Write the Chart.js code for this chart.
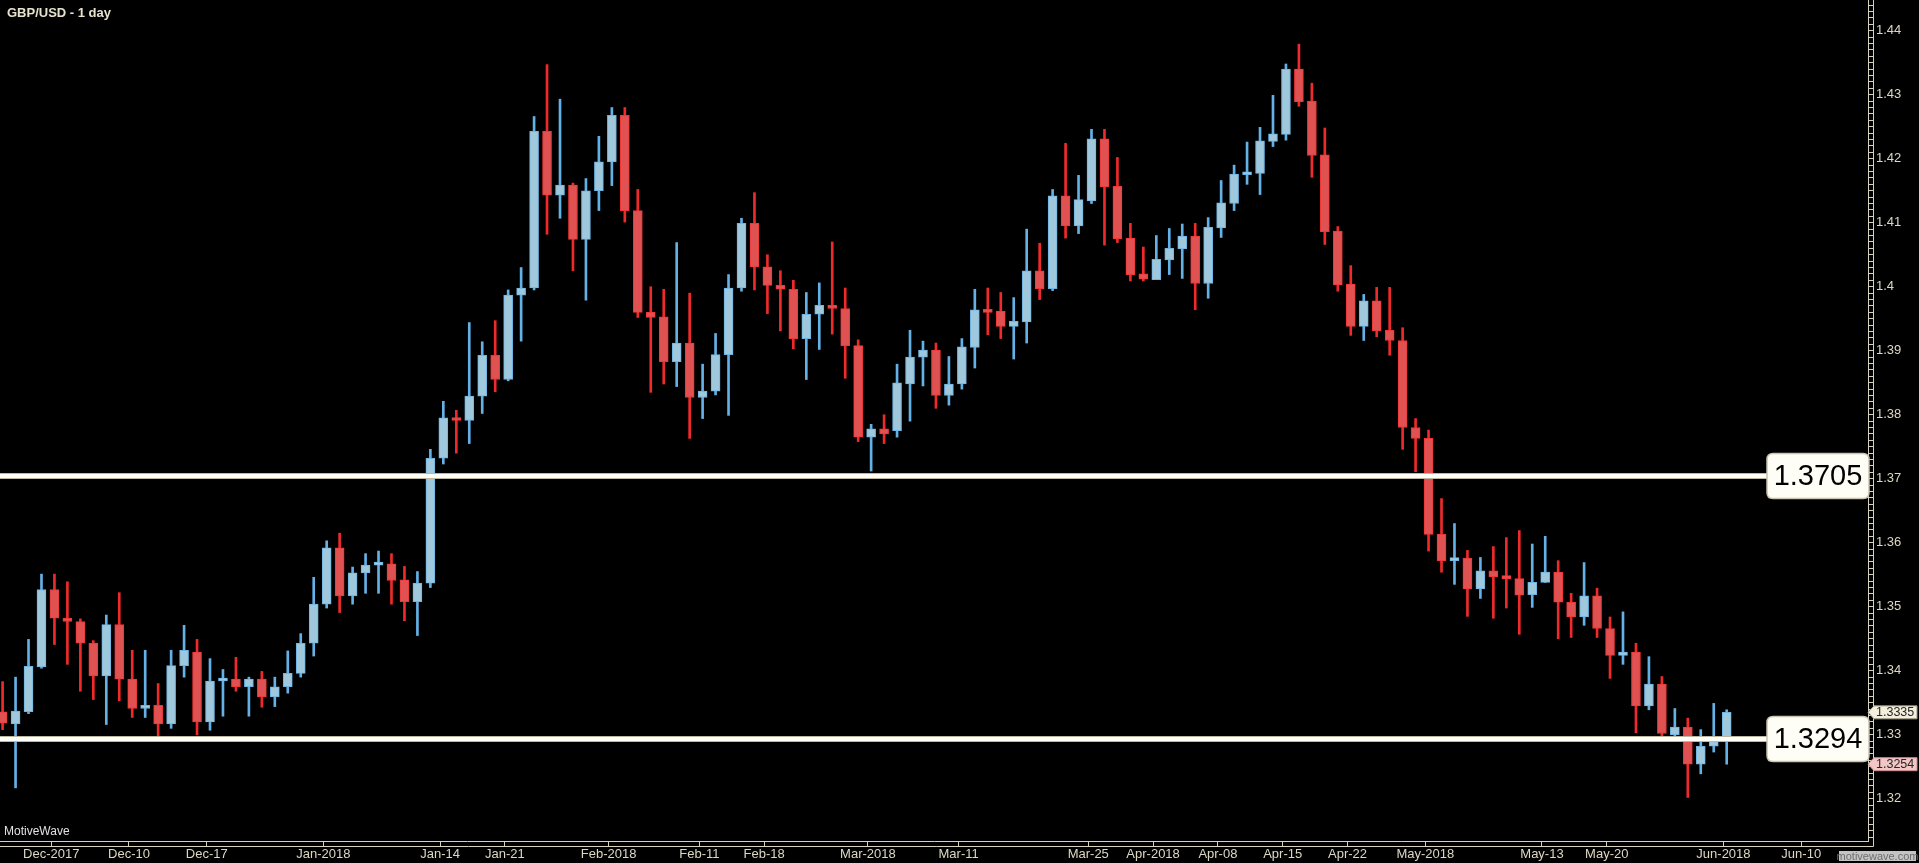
<!DOCTYPE html>
<html>
<head>
<meta charset="utf-8">
<title>GBP/USD - 1 day</title>
<script src="https://cdn.jsdelivr.net/npm/chart.js@4.4.1/dist/chart.umd.min.js"></script>
<style>
    html, body { margin: 0; padding: 0; background: #000; overflow: hidden; }
    #wrap { position: relative; width: 1919px; height: 863px; }
</style>
</head>
<body>
<div id="wrap"><canvas id="priceChart"></canvas></div>
<script>
// GBP/USD daily candles, late Nov 2017 .. 1 Jun 2018
const opens = [
    1.3336, 1.3317, 1.3336, 1.3406, 1.3527, 1.3482, 1.3477, 1.3443, 1.3392, 1.3472,
    1.3387, 1.3341, 1.3346, 1.3317, 1.3408, 1.3429, 1.3320, 1.3384, 1.3387, 1.3375,
    1.3387, 1.3359, 1.3375, 1.3396, 1.3443, 1.3504, 1.3592, 1.3517, 1.3553, 1.3565,
    1.3567, 1.3542, 1.3508, 1.3537, 1.3732, 1.3795, 1.3791, 1.3829, 1.3893, 1.3855,
    1.3987, 1.3998, 1.4243, 1.4143, 1.4159, 1.4074, 1.4150, 1.4195, 1.4268, 1.4119,
    1.3960, 1.3953, 1.3883, 1.3912, 1.3827, 1.3837, 1.3894, 1.3998, 1.4099, 1.4031,
    1.4002, 1.3996, 1.3919, 1.3957, 1.3971, 1.3966, 1.3908, 1.3765, 1.3778, 1.3775,
    1.3848, 1.3890, 1.3901, 1.3830, 1.3848, 1.3905, 1.3964, 1.3962, 1.3938, 1.3945,
    1.4025, 1.3997, 1.4142, 1.4095, 1.4134, 1.4231, 1.4157, 1.4076, 1.4020, 1.4011,
    1.4042, 1.4059, 1.4079, 1.4005, 1.4092, 1.4130, 1.4175, 1.4177, 1.4227, 1.4238,
    1.4340, 1.4290, 1.4206, 1.4087, 1.4004, 1.3938, 1.3978, 1.3932, 1.3916, 1.3780,
    1.3763, 1.3613, 1.3572, 1.3576, 1.3528, 1.3556, 1.3547, 1.3544, 1.3519, 1.3538,
    1.3554, 1.3507, 1.3484, 1.3517, 1.3466, 1.3424, 1.3429, 1.3345, 1.3379, 1.3300,
    1.3312, 1.3254, 1.3282, 1.3291
];
const highs = [
    1.3383, 1.3390, 1.3449, 1.3551, 1.3551, 1.3539, 1.3481, 1.3447, 1.3487, 1.3522,
    1.3432, 1.3432, 1.3380, 1.3432, 1.3471, 1.3449, 1.3419, 1.3402, 1.3421, 1.3390,
    1.3399, 1.3390, 1.3431, 1.3458, 1.3546, 1.3603, 1.3615, 1.3562, 1.3583, 1.3587,
    1.3583, 1.3563, 1.3555, 1.3746, 1.3821, 1.3807, 1.3944, 1.3914, 1.3947, 1.3995,
    1.4030, 1.4266, 1.4347, 1.4293, 1.4162, 1.4169, 1.4235, 1.4280, 1.4280, 1.4152,
    1.4000, 1.3996, 1.4069, 1.3990, 1.3879, 1.3927, 1.4019, 1.4107, 1.4147, 1.4050,
    1.4025, 1.4010, 1.3991, 1.4006, 1.4070, 1.3998, 1.3917, 1.3785, 1.3800, 1.3879,
    1.3932, 1.3915, 1.3912, 1.3891, 1.3919, 1.3996, 1.3998, 1.3991, 1.3983, 1.4090,
    1.4068, 1.4152, 1.4224, 1.4174, 1.4246, 1.4246, 1.4202, 1.4099, 1.4062, 1.4080,
    1.4091, 1.4098, 1.4099, 1.4108, 1.4166, 1.4190, 1.4226, 1.4249, 1.4299, 1.4348,
    1.4379, 1.4318, 1.4248, 1.4094, 1.4033, 1.3988, 1.3999, 1.3999, 1.3936, 1.3794,
    1.3776, 1.3669, 1.3630, 1.3588, 1.3577, 1.3594, 1.3608, 1.3619, 1.3598, 1.3610,
    1.3572, 1.3521, 1.3569, 1.3529, 1.3484, 1.3492, 1.3443, 1.3422, 1.3391, 1.3341,
    1.3326, 1.3308, 1.3349, 1.3339
];
const lows = [
    1.3308, 1.3217, 1.3333, 1.3404, 1.3441, 1.3410, 1.3368, 1.3355, 1.3316, 1.3353,
    1.3327, 1.3327, 1.3298, 1.3310, 1.3390, 1.3300, 1.3307, 1.3329, 1.3368, 1.3329,
    1.3343, 1.3344, 1.3365, 1.3390, 1.3423, 1.3498, 1.3491, 1.3504, 1.3521, 1.3521,
    1.3504, 1.3478, 1.3455, 1.3530, 1.3723, 1.3740, 1.3755, 1.3802, 1.3836, 1.3853,
    1.3915, 1.3995, 1.4082, 1.4107, 1.4025, 1.3979, 1.4119, 1.4158, 1.4101, 1.3952,
    1.3835, 1.3848, 1.3844, 1.3763, 1.3794, 1.3831, 1.3799, 1.3993, 1.3995, 1.3958,
    1.3931, 1.3903, 1.3855, 1.3902, 1.3926, 1.3857, 1.3758, 1.3712, 1.3755, 1.3765,
    1.3790, 1.3845, 1.3810, 1.3815, 1.3840, 1.3873, 1.3925, 1.3919, 1.3887, 1.3912,
    1.3980, 1.3994, 1.4076, 1.4083, 1.4130, 1.4065, 1.4069, 1.4009, 1.4009, 1.4011,
    1.4019, 1.4013, 1.3964, 1.3982, 1.4077, 1.4119, 1.4160, 1.4144, 1.4219, 1.4229,
    1.4282, 1.4171, 1.4066, 1.3993, 1.3924, 1.3916, 1.3922, 1.3893, 1.3746, 1.3711,
    1.3587, 1.3554, 1.3535, 1.3485, 1.3513, 1.3482, 1.3498, 1.3457, 1.3499, 1.3538,
    1.3450, 1.3452, 1.3471, 1.3452, 1.3388, 1.3410, 1.3303, 1.3339, 1.3298, 1.3296,
    1.3202, 1.3239, 1.3273, 1.3254
];
const closes = [
    1.3318, 1.3337, 1.3407, 1.3527, 1.3482, 1.3477, 1.3443, 1.3392, 1.3472, 1.3387,
    1.3341, 1.3346, 1.3317, 1.3408, 1.3432, 1.3320, 1.3384, 1.3387, 1.3375, 1.3387,
    1.3359, 1.3375, 1.3396, 1.3443, 1.3504, 1.3592, 1.3517, 1.3553, 1.3565, 1.3567,
    1.3541, 1.3508, 1.3537, 1.3732, 1.3795, 1.3791, 1.3829, 1.3893, 1.3855, 1.3987,
    1.3998, 1.4243, 1.4143, 1.4159, 1.4074, 1.4150, 1.4195, 1.4268, 1.4119, 1.3960,
    1.3952, 1.3883, 1.3912, 1.3827, 1.3837, 1.3894, 1.3998, 1.4099, 1.4031, 1.4002,
    1.3996, 1.3919, 1.3957, 1.3971, 1.3966, 1.3908, 1.3765, 1.3778, 1.3770, 1.3850,
    1.3890, 1.3901, 1.3830, 1.3848, 1.3906, 1.3964, 1.3960, 1.3938, 1.3946, 1.4025,
    1.3997, 1.4142, 1.4095, 1.4136, 1.4231, 1.4156, 1.4075, 1.4019, 1.4012, 1.4043,
    1.4060, 1.4079, 1.4005, 1.4093, 1.4131, 1.4176, 1.4178, 1.4228, 1.4239, 1.4340,
    1.4289, 1.4205, 1.4086, 1.4003, 1.3938, 1.3978, 1.3931, 1.3916, 1.3780, 1.3763,
    1.3613, 1.3572, 1.3576, 1.3528, 1.3556, 1.3547, 1.3544, 1.3518, 1.3538, 1.3554,
    1.3507, 1.3484, 1.3517, 1.3466, 1.3424, 1.3429, 1.3345, 1.3379, 1.3302, 1.3312,
    1.3254, 1.3282, 1.3291, 1.3335
];

// date labels on the time axis and the bar each one belongs to
const tickLabels = ['Dec-2017', 'Dec-10', 'Dec-17', 'Jan-2018', 'Jan-14', 'Jan-21', 'Feb-2018',
    'Feb-11', 'Feb-18', 'Mar-2018', 'Mar-11', 'Mar-25', 'Apr-2018', 'Apr-08', 'Apr-15',
    'Apr-22', 'May-2018', 'May-13', 'May-20', 'Jun-2018', 'Jun-10'];
const tickBars = [4, 10, 16, 25, 34, 39, 47, 54, 59, 67, 74, 84, 89, 94, 99, 104, 110, 119, 124, 133, 139];

// horizontal levels and the two price tags on the axis
const levels = [1.3705, 1.3294];
const lastPrice = 1.3335;
const markPrice = 1.3254;

const UP_FILL = '#a0c8dd', UP_EDGE = '#6db5e4', UP_WICK = '#63b1e6';
const DOWN_FILL = '#e05151', DOWN_EDGE = '#f23636', DOWN_WICK = '#f02a2a';
const AXIS_COLOR = '#d6d2be';
const TEXT_COLOR = '#dcd8c4';
const FONT = "'Liberation Sans', Arial, sans-serif";

const isUp = i => closes[i] >= opens[i];

function roundRect(ctx, x, y, w, h, r) {
    ctx.beginPath();
    ctx.moveTo(x + r, y);
    ctx.lineTo(x + w - r, y);
    ctx.quadraticCurveTo(x + w, y, x + w, y + r);
    ctx.lineTo(x + w, y + h - r);
    ctx.quadraticCurveTo(x + w, y + h, x + w - r, y + h);
    ctx.lineTo(x + r, y + h);
    ctx.quadraticCurveTo(x, y + h, x, y + h - r);
    ctx.lineTo(x, y + r);
    ctx.quadraticCurveTo(x, y, x + r, y);
    ctx.closePath();
}

function drawTag(ctx, left, y, text, fill, edge) {
    const h = 13, right = 1917;
    ctx.beginPath();
    ctx.moveTo(left, y);
    ctx.lineTo(left + 6, y - h / 2);
    ctx.lineTo(right, y - h / 2);
    ctx.lineTo(right, y + h / 2);
    ctx.lineTo(left + 6, y + h / 2);
    ctx.closePath();
    ctx.fillStyle = fill;
    ctx.fill();
    ctx.strokeStyle = edge;
    ctx.lineWidth = 1;
    ctx.stroke();
    ctx.fillStyle = '#262626';
    ctx.font = '12.5px ' + FONT;
    ctx.textAlign = 'left';
    ctx.textBaseline = 'middle';
    ctx.fillText(text, left + 8, y + 0.5);
}

const overlay = {
    id: 'overlay',
    beforeDraw(chart) {
        const ctx = chart.ctx;
        ctx.save();
        ctx.fillStyle = '#000';
        ctx.fillRect(0, 0, chart.width, chart.height);
        ctx.restore();
    },
    afterDatasetsDraw(chart) {
        const ctx = chart.ctx;
        const area = chart.chartArea;
        const y = chart.scales.y;
        ctx.save();
        levels.forEach(level => {
            const py = Math.round(y.getPixelForValue(level));
            ctx.strokeStyle = '#bcb7a0';
            ctx.lineWidth = 6;
            ctx.beginPath();
            ctx.moveTo(0, py);
            ctx.lineTo(area.right, py);
            ctx.stroke();
            ctx.strokeStyle = '#fffef8';
            ctx.lineWidth = 4;
            ctx.stroke();

            roundRect(ctx, area.right - 101, py - 22.5, 102, 45, 6);
            ctx.fillStyle = '#fffef6';
            ctx.fill();
            ctx.strokeStyle = '#c9c4ad';
            ctx.lineWidth = 1.5;
            ctx.stroke();
            ctx.fillStyle = '#000';
            ctx.font = '29px ' + FONT;
            ctx.textAlign = 'center';
            ctx.textBaseline = 'middle';
            ctx.fillText(level.toFixed(4), area.right - 50, py + 1);
        });
        ctx.restore();
    },
    afterDraw(chart) {
        const ctx = chart.ctx;
        const area = chart.chartArea;
        const y = chart.scales.y;
        ctx.save();
        // outer lines of the axis strips
        ctx.strokeStyle = AXIS_COLOR;
        ctx.lineWidth = 1;
        ctx.beginPath();
        ctx.moveTo(0, area.bottom + 5.5);
        ctx.lineTo(area.right + 5.5, area.bottom + 5.5);
        ctx.lineTo(area.right + 5.5, 0);
        ctx.stroke();

        drawTag(ctx, area.right, y.getPixelForValue(lastPrice), lastPrice.toFixed(4), '#f3efdc', '#9d9984');
        drawTag(ctx, area.right, y.getPixelForValue(markPrice), markPrice.toFixed(4), '#f3c6c6', '#c98e8e');

        ctx.fillStyle = '#e6e2ce';
        ctx.font = 'bold 13px ' + FONT;
        ctx.textAlign = 'left';
        ctx.textBaseline = 'middle';
        ctx.fillText('GBP/USD - 1 day', 7, 13.5);

        ctx.fillStyle = '#e2e2e2';
        ctx.font = '12px ' + FONT;
        ctx.fillText('MotiveWave', 4, 832);

        ctx.fillStyle = '#c4c4c4';
        ctx.fillRect(1839, 851, 77, 10);
        ctx.fillStyle = '#6e6e6e';
        ctx.font = '11px ' + FONT;
        ctx.textAlign = 'center';
        ctx.fillText('motivewave.com', 1877.5, 856.5);
        ctx.restore();
    }
};

const wickData = highs.map((h, i) => ({ x: i, y: [lows[i], h] }));
const bodyData = opens.map((o, i) => ({ x: i, y: [o, closes[i]] }));

const priceChart = new Chart(document.getElementById('priceChart'), {
    type: 'bar',
    data: {
        datasets: [{
            label: 'wick',
            data: wickData,
            backgroundColor: ctx => isUp(ctx.dataIndex) ? UP_WICK : DOWN_WICK,
            barThickness: 2,
            grouped: false,
            order: 2
        }, {
            label: 'body',
            data: bodyData,
            backgroundColor: ctx => isUp(ctx.dataIndex) ? UP_FILL : DOWN_FILL,
            borderColor: ctx => isUp(ctx.dataIndex) ? UP_EDGE : DOWN_EDGE,
            borderWidth: 1,
            borderSkipped: false,
            barThickness: 9,
            minBarLength: 3,
            grouped: false,
            order: 1
        }]
    },
    options: {
        responsive: true,
        maintainAspectRatio: false,
        animation: false,
        events: [],
        layout: { padding: 0 },
        plugins: {
            legend: { display: false },
            tooltip: { enabled: false }
        },
        scales: {
            x: {
                type: 'linear',
                offset: false,
                min: -0.2,
                max: 143.9,
                afterBuildTicks: scale => {
                    scale.ticks = tickBars.map(b => ({ value: b - 0.25 }));
                },
                afterFit: scale => {
                    scale.height = 22;
                    scale.paddingLeft = 0;
                    scale.paddingRight = 0;
                },
                grid: {
                    offset: false,
                    drawOnChartArea: false,
                    drawTicks: true,
                    tickLength: 5,
                    color: AXIS_COLOR
                },
                border: { display: true, color: AXIS_COLOR },
                ticks: {
                    autoSkip: false,
                    maxRotation: 0,
                    padding: 1,
                    color: TEXT_COLOR,
                    font: { family: FONT, size: 13 },
                    callback: (value, index) => tickLabels[index]
                }
            },
            y: {
                position: 'right',
                min: 1.3134,
                max: 1.4448,
                afterBuildTicks: scale => {
                    const ticks = [];
                    for (let m = 1314; m <= 1444; m++) {
                        ticks.push({ value: m / 1000 });
                    }
                    scale.ticks = ticks;
                },
                afterFit: scale => {
                    scale.width = 51;
                    scale.paddingTop = 0;
                    scale.paddingBottom = 0;
                },
                grid: {
                    drawOnChartArea: false,
                    drawTicks: true,
                    tickLength: 5,
                    color: AXIS_COLOR
                },
                border: { display: true, color: AXIS_COLOR },
                ticks: {
                    autoSkip: false,
                    padding: 3,
                    color: TEXT_COLOR,
                    font: { family: FONT, size: 13 },
                    callback: value => {
                        const c = Math.round(value * 1000);
                        return c % 10 === 0 ? String(c / 1000) : '';
                    }
                }
            }
        }
    },
    plugins: [overlay]
});
</script>
</body>
</html>
